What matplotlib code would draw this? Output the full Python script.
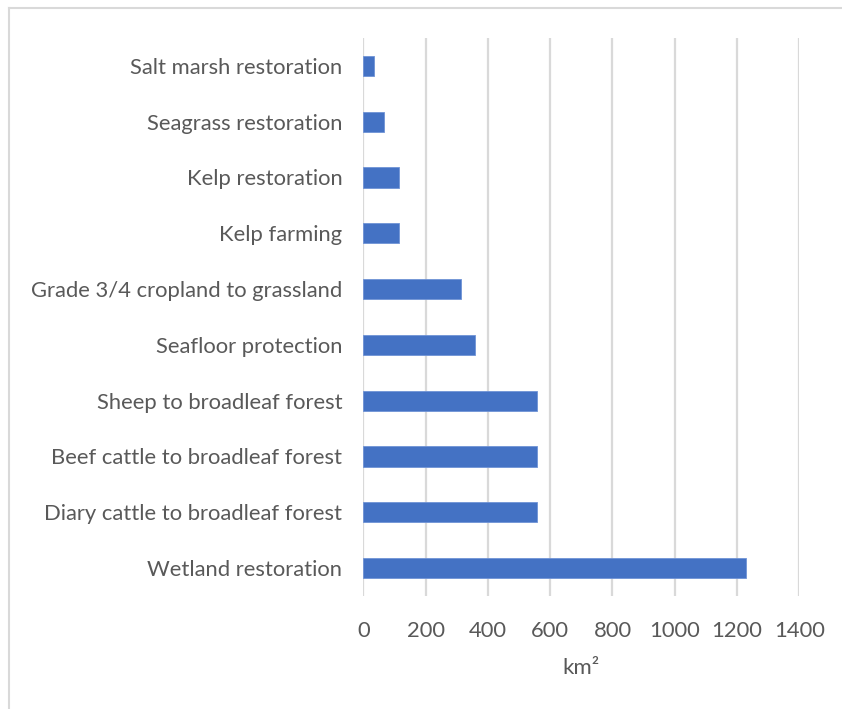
import matplotlib.pyplot as plt
from matplotlib.lines import Line2D

# top to bottom as in the chart
labels = [
    "Salt marsh restoration",
    "Seagrass restoration",
    "Kelp restoration",
    "Kelp farming",
    "Grade 3/4 cropland to grassland",
    "Seafloor protection",
    "Sheep to broadleaf forest",
    "Beef cattle to broadleaf forest",
    "Diary cattle to broadleaf forest",
    "Wetland restoration",
]
area_km2 = [34, 67, 116, 116, 313, 360, 558, 558, 558, 1230]
xticks = [0, 200, 400, 600, 800, 1000, 1200, 1400]

plt.rcParams['font.family'] = ['Lato', 'DejaVu Sans']
txt = "#595959"

fig = plt.figure(figsize=(8.42, 7.09), dpi=100)
ax = fig.add_axes([0.4315, 0.1594, 0.9493 - 0.4315, 0.9464 - 0.1594])

pos = list(range(len(labels)))
ax.barh(pos, area_km2, height=0.36, color="#4472C4", edgecolor="#6f93d6", linewidth=0.6, zorder=3)

ax.set_ylim(len(labels) - 0.5, -0.5)
ax.set_xlim(0, 1400)
ax.set_xticks(xticks)
ax.set_yticks(pos)
ax.set_yticklabels(labels)
ax.xaxis.grid(True, color="#d9d9d9", linewidth=1.6, zorder=0)
ax.set_axisbelow(True)
for s in ax.spines.values():
    s.set_visible(False)
ax.tick_params(axis="both", length=0, labelsize=15.8, colors=txt)
ax.tick_params(axis="y", pad=15)
ax.tick_params(axis="x", pad=18)
ax.set_xlabel("km²", fontsize=16, color=txt, labelpad=12)

# outer chart frame (only top and left edges visible)
fig.add_artist(Line2D([9 / 842, 9 / 842], [0, 1 - 8 / 709], transform=fig.transFigure, color="#d9d9d9", linewidth=1.5))
fig.add_artist(Line2D([9 / 842, 1], [1 - 8 / 709, 1 - 8 / 709], transform=fig.transFigure, color="#d9d9d9", linewidth=1.5))

fig.savefig("out.png", dpi=100)
